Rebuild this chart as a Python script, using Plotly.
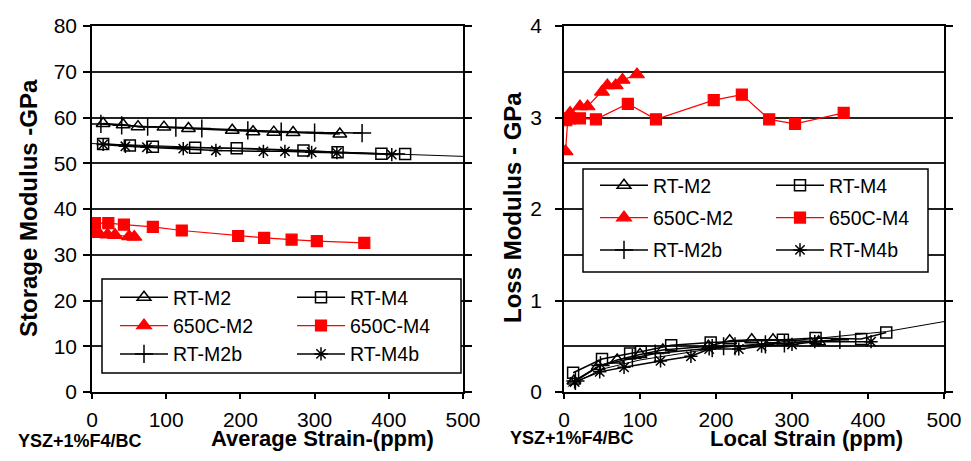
import plotly.graph_objects as go

# ---------------- data: left panel (average strain) ----------------
avg_rt_m2_x = [15, 42, 62, 97, 130, 189, 217, 245, 271, 334]
avg_rt_m2_y = [58.7, 58.4, 58.0, 57.9, 57.6, 57.2, 56.9, 56.8, 56.7, 56.4]
avg_rt_m4_x = [15, 51, 82, 139, 195, 285, 331, 390, 422]
avg_rt_m4_y = [54.2, 53.9, 53.6, 53.4, 53.3, 52.8, 52.4, 52.1, 52.0]
avg_650_m2_x = [1, 4, 10, 21, 31, 50, 57]
avg_650_m2_y = [34.5, 34.6, 34.5, 34.4, 34.3, 34.0, 33.9]
avg_650_m4_x = [4, 22, 43, 82, 121, 197, 232, 269, 303, 367]
avg_650_m4_y = [36.9, 36.9, 36.6, 36.1, 35.3, 34.1, 33.7, 33.3, 33.0, 32.6]
avg_rt_m2b_x = [12, 40, 75, 113, 148, 210, 255, 300, 364]
avg_rt_m2b_y = [58.6, 58.3, 58.0, 57.8, 57.6, 57.2, 56.9, 56.7, 56.6]
avg_rt_m4b_x = [15, 45, 74, 123, 167, 231, 260, 296, 330, 404]
avg_rt_m4b_y = [54.1, 53.7, 53.5, 53.2, 52.8, 52.6, 52.6, 52.4, 52.3, 51.9]
avg_trend_x = [0, 500]
avg_trend_y = [54.3, 51.5]

# ---------------- data: right panel (local strain) ----------------
loc_rt_m2_x = [13, 45, 70, 100, 130, 190, 218, 247, 275, 335]
loc_rt_m2_y = [0.12, 0.28, 0.35, 0.41, 0.46, 0.50, 0.56, 0.57, 0.57, 0.55]
loc_rt_m4_x = [12, 50, 87, 101, 141, 193, 288, 331, 391, 424]
loc_rt_m4_y = [0.21, 0.36, 0.42, 0.44, 0.51, 0.54, 0.57, 0.59, 0.58, 0.65]
loc_650_m2_x = [2, 5, 8, 21, 31, 50, 57, 68, 77, 96]
loc_650_m2_y = [2.63, 2.98, 3.05, 3.12, 3.12, 3.28, 3.35, 3.35, 3.41, 3.47]
loc_650_m4_x = [3, 8, 21, 42, 84, 121, 197, 234, 270, 304, 368]
loc_650_m4_y = [2.97, 2.99, 2.99, 2.98, 3.15, 2.98, 3.19, 3.25, 2.98, 2.93, 3.05]
loc_rt_m2b_x = [15, 48, 90, 120, 195, 210, 225, 265, 290, 363]
loc_rt_m2b_y = [0.12, 0.29, 0.37, 0.42, 0.48, 0.50, 0.50, 0.52, 0.53, 0.57]
loc_rt_m4b_x = [14, 47, 79, 127, 167, 191, 230, 260, 300, 330, 404]
loc_rt_m4b_y = [0.11, 0.22, 0.27, 0.34, 0.39, 0.47, 0.47, 0.50, 0.52, 0.55, 0.55]
loc_trend_x = [5, 50, 100, 200, 300, 424, 500]
loc_trend_y = [0.06, 0.25, 0.35, 0.48, 0.56, 0.66, 0.77]

names = ["RT-M2", "RT-M4", "650C-M2", "650C-M4", "RT-M2b", "RT-M4b"]
x_ticks = [0, 100, 200, 300, 400, 500]

# figure sized so the page (with its 8px body margin) fits the 971x461 window exactly
OFF = 8
W, H = 971 - 2 * OFF, 461 - 2 * OFF
FONT = "Liberation Sans, Arial, sans-serif"
BLACK = "#000000"
RED = "#FF0000"


def px(v):
    return (v - OFF) / W


def py(v):
    return 1 - (v - OFF) / H


styles = {
    "RT-M2": dict(symbol="triangle-up-open", color=BLACK, size=12, lw=1.5),
    "RT-M4": dict(symbol="square-open", color=BLACK, size=11, lw=1.5),
    "650C-M2": dict(symbol="triangle-up", color=RED, size=13, lw=1.2),
    "650C-M4": dict(symbol="square", color=RED, size=11, lw=1.2),
    "RT-M2b": dict(symbol="cross-thin-open", color=BLACK, size=13, lw=1.5),
    "RT-M4b": dict(symbol="asterisk-open", color=BLACK, size=11, lw=1.5),
}

left_series = {
    "RT-M2": (avg_rt_m2_x, avg_rt_m2_y),
    "RT-M4": (avg_rt_m4_x, avg_rt_m4_y),
    "650C-M2": (avg_650_m2_x, avg_650_m2_y),
    "650C-M4": (avg_650_m4_x, avg_650_m4_y),
    "RT-M2b": (avg_rt_m2b_x, avg_rt_m2b_y),
    "RT-M4b": (avg_rt_m4b_x, avg_rt_m4b_y),
}
right_series = {
    "RT-M2": (loc_rt_m2_x, loc_rt_m2_y),
    "RT-M4": (loc_rt_m4_x, loc_rt_m4_y),
    "650C-M2": (loc_650_m2_x, loc_650_m2_y),
    "650C-M4": (loc_650_m4_x, loc_650_m4_y),
    "RT-M2b": (loc_rt_m2b_x, loc_rt_m2b_y),
    "RT-M4b": (loc_rt_m4b_x, loc_rt_m4b_y),
}

col_of = {"RT-M2": 0, "650C-M2": 0, "RT-M2b": 0, "RT-M4": 1, "650C-M4": 1, "RT-M4b": 1}

fig = go.Figure()

# trend lines (drawn first, underneath)
fig.add_trace(go.Scatter(x=avg_trend_x, y=avg_trend_y, mode="lines", line=dict(color=BLACK, width=1),
                         showlegend=False, hoverinfo="skip", xaxis="x", yaxis="y"))
fig.add_trace(go.Scatter(x=loc_trend_x, y=loc_trend_y, mode="lines", line=dict(color=BLACK, width=1),
                         showlegend=False, hoverinfo="skip", xaxis="x2", yaxis="y2"))

for panel, series, axes, legs in [
    ("L", left_series, ("x", "y"), ("legend", "legend2")),
    ("R", right_series, ("x2", "y2"), ("legend3", "legend4")),
]:
    for name in names:
        xs, ys = series[name]
        s = styles[name]
        fig.add_trace(go.Scatter(
            x=xs, y=ys, mode="lines+markers", name=name,
            xaxis=axes[0], yaxis=axes[1],
            legend=legs[col_of[name]],
            legendgroup=panel + name,
            line=dict(color=s["color"], width=1.5 if s["color"] == BLACK else 1.2),
            marker=dict(symbol=s["symbol"], size=s["size"], color=s["color"],
                        line=dict(color=s["color"], width=s["lw"])),
        ))

axis_common = dict(
    showline=True, linecolor=BLACK, linewidth=1.5, ticks="outside", tickcolor=BLACK,
    tickwidth=1.5, tickfont=dict(family=FONT, size=21, color=BLACK), zeroline=False,
    automargin=False,
)

grid = "#222222"

leg_common = dict(
    bgcolor="rgba(0,0,0,0)", borderwidth=0, font=dict(family=FONT, size=19.5, color=BLACK),
    itemwidth=48, orientation="v", xanchor="left", yanchor="top", xref="paper", yref="paper",
)


def ann(text, x, y, size, angle=0):
    return dict(text=text, x=px(x), y=py(y), xref="paper", yref="paper", xanchor="center",
                yanchor="middle", textangle=angle, showarrow=False,
                font=dict(family=FONT, size=size, color=BLACK))


TOP = 26  # top of the plotting frames (page pixels)

fig.update_layout(
    width=W, height=H,
    margin=dict(l=0, r=0, t=0, b=0, pad=0, autoexpand=False),
    paper_bgcolor="white", plot_bgcolor="white",
    font=dict(family=FONT, color=BLACK),
    xaxis=dict(domain=[px(92), px(463)], range=[0, 500], tickvals=x_ticks, ticklen=5,
               showgrid=False, mirror=True, anchor="y", ticklabelstandoff=3, **axis_common),
    yaxis=dict(domain=[py(392), py(TOP)], range=[0, 80], dtick=10, ticklen=7, showgrid=True,
               gridcolor=grid, gridwidth=1.5, mirror="ticks", anchor="x", ticklabelstandoff=2,
               **axis_common),
    xaxis2=dict(domain=[px(564), px(944)], range=[0, 500], tickvals=x_ticks, ticklen=5,
                showgrid=False, mirror=True, anchor="y2", ticklabelstandoff=3, **axis_common),
    yaxis2=dict(domain=[py(392), py(TOP)], range=[0, 4], dtick=1, ticklen=7, showgrid=True,
                gridcolor=grid, gridwidth=1.5, mirror="ticks", anchor="x2", ticklabelstandoff=9,
                minor=dict(dtick=0.5, showgrid=True, gridcolor=grid, gridwidth=1.5, ticks=""),
                **axis_common),
    legend=dict(x=px(115), y=py(278), tracegroupgap=0, **leg_common),
    legend2=dict(x=px(292), y=py(278), tracegroupgap=0, **leg_common),
    legend3=dict(x=px(595), y=py(166), tracegroupgap=4, **leg_common),
    legend4=dict(x=px(771), y=py(166), tracegroupgap=4, **leg_common),
    shapes=[
        dict(type="rect", xref="paper", yref="paper", x0=px(102), x1=px(461), y0=py(373), y1=py(279),
             line=dict(color=BLACK, width=1.5), fillcolor="white", layer="above"),
        dict(type="rect", xref="paper", yref="paper", x0=px(583), x1=px(928), y0=py(272), y1=py(169),
             line=dict(color=BLACK, width=1.5), fillcolor="white", layer="above"),
    ],
    annotations=[
        ann("<b>Storage Modulus -GPa</b>", 28, 208, 24, -90),
        ann("<b>Loss Modulus - GPa</b>", 512, 208, 24, -90),
        ann("<b>Average Strain-(ppm)</b>", 322, 438, 22),
        ann("<b>Local Strain (ppm)</b>", 806, 438, 22),
        ann("<b>YSZ+1%F4/BC</b>", 80, 441, 18),
        ann("<b>YSZ+1%F4/BC</b>", 572, 438, 18),
    ],
)

fig.write_html("out.html")
